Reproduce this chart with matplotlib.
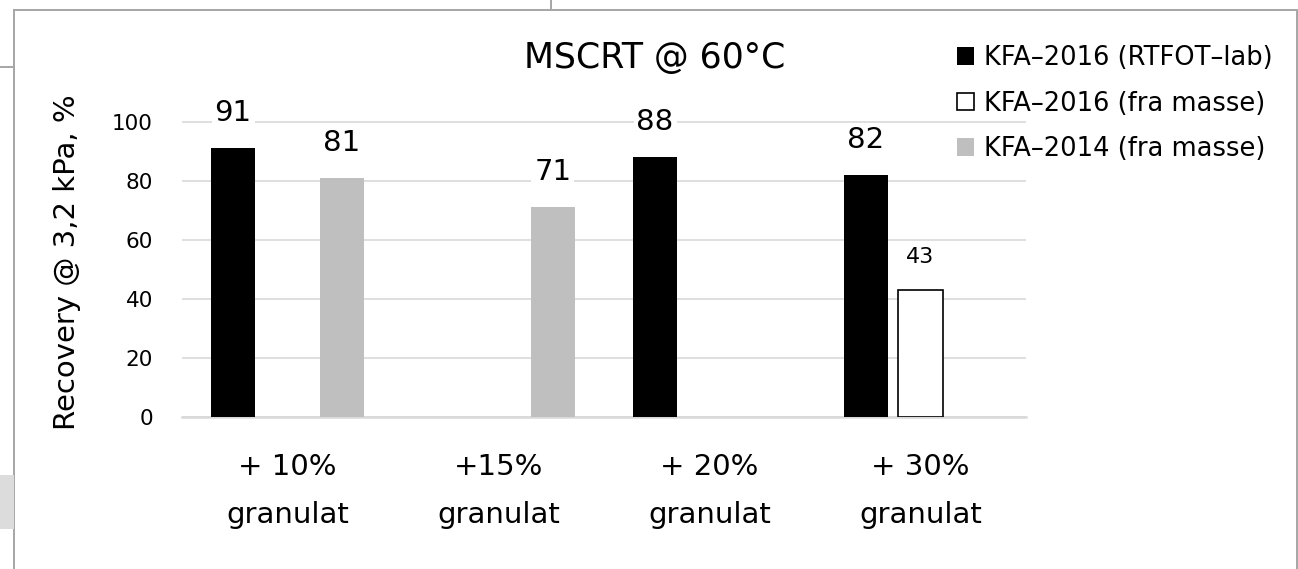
"""MSCRT recovery bar chart."""

import matplotlib

matplotlib.use("Agg")

import matplotlib.pyplot as plt
import numpy as np
from matplotlib.lines import Line2D
from matplotlib.patches import Rectangle

categories = ["+ 10%\ngranulat", "+15%\ngranulat", "+ 20%\ngranulat", "+ 30%\ngranulat"]
series_names = ["KFA\u20132016 (RTFOT\u2013lab)", "KFA\u20132016 (fra masse)", "KFA\u20132014 (fra masse)"]
rtfot_lab_2016 = [91, np.nan, 88, 82]
masse_2016 = [np.nan, np.nan, np.nan, 43]
masse_2014 = [81, 71, np.nan, np.nan]
y_ticks = [0, 20, 40, 60, 80, 100]

W, H = 1298, 569
plt.rcParams["font.family"] = "DejaVu Sans"

fig = plt.figure(figsize=(W / 100, H / 100), dpi=100)


def fx(px):
    return px / W


def fy(py):
    return 1 - py / H


# plot area: y=0 at 417.3 px, y=100 at 121.5 px; a little headroom so the top gridline shows
px_per_unit = (417.3 - 121.5) / 100
y_top = 101
ax = fig.add_axes([fx(182), fy(417.3), fx(1026 - 182), y_top * px_per_unit / H])

x = np.arange(len(categories))
bar_w = 0.211
step = 0.258
styles = [
    dict(color="black", edgecolor="black", linewidth=0),
    dict(color="white", edgecolor="black", linewidth=1.2),
    dict(color="#bfbfbf", edgecolor="#bfbfbf", linewidth=0),
]
label_size = [21, 16, 21]
series = [rtfot_lab_2016, masse_2016, masse_2014]

handles = []
for i, (vals, st) in enumerate(zip(series, styles)):
    pos = x + (i - 1) * step
    bars = ax.bar(pos, vals, width=bar_w, zorder=3, **st)
    handles.append(bars)
    for p, v in zip(pos, vals):
        if np.isnan(v):
            continue
        ax.annotate(
            f"{v:.0f}",
            xy=(p, v),
            xytext=(0, 19.4),
            textcoords="offset points",
            ha="center",
            va="baseline",
            fontsize=label_size[i],
            bbox=dict(facecolor="white", edgecolor="none", pad=2),
            zorder=4,
            annotation_clip=False,
        )

ax.set_xlim(-0.5, len(categories) - 0.5)
ax.set_ylim(0, y_top)
ax.set_yticks(y_ticks)
ax.set_xticks(x)
ax.set_xticklabels(categories, fontsize=21, linespacing=1.9)
ax.tick_params(axis="y", length=0, pad=21, labelsize=15.5)
ax.tick_params(axis="x", length=0, pad=26)
ax.grid(axis="y", color="#d9d9d9", linewidth=1.2, zorder=0)
ax.set_axisbelow(True)
for side in ["left", "right", "top"]:
    ax.spines[side].set_visible(False)
ax.spines["bottom"].set_color("#d9d9d9")
ax.spines["bottom"].set_linewidth(1.8)
ax.spines["bottom"].set_zorder(2)

fig.text(fx(655), fy(58), "MSCRT @ 60\u00b0C", ha="center", va="center", fontsize=25)
fig.text(fx(67), fy(262), "Recovery @ 3,2 kPa, %", ha="center", va="center",
         rotation=90, fontsize=21)

fig.legend(
    handles,
    series_names,
    loc="upper left",
    bbox_to_anchor=(fx(957), fy(45)),
    frameon=False,
    fontsize=18.5,
    handlelength=0.65,
    handleheight=0.65,
    handletextpad=0.4,
    labelspacing=0.76,
    borderpad=0,
    borderaxespad=0,
)

# chart frame and bits of neighbouring cells
border = "#a6a6a6"
fig.add_artist(Rectangle((fx(14.5), fy(H + 5)), fx(1297 - 14.5), (H + 5 - 10) / H,
                         transform=fig.transFigure, fill=False, edgecolor=border,
                         linewidth=1.4))
fig.add_artist(Line2D([0, fx(14.5)], [fy(67), fy(67)], color=border, linewidth=1.4))
fig.add_artist(Line2D([fx(551), fx(551)], [1, fy(10)], color=border, linewidth=1.4))
fig.add_artist(Rectangle((0, fy(529)), fx(13.5), 54 / H, transform=fig.transFigure,
                         facecolor="#dcdcdc", edgecolor="none"))

fig.savefig("out.png", dpi=100)
